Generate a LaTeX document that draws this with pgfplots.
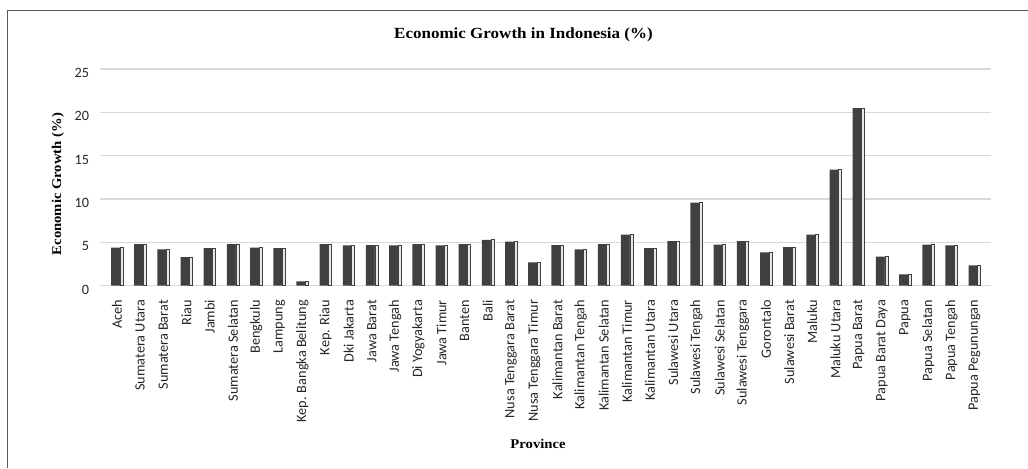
\documentclass[border=0pt]{standalone}
\usepackage{fontspec}
\usepackage{pgfplots}
\pgfplotsset{compat=1.18}
\setmainfont{Liberation Serif}
\newfontfamily\lab{Carlito}
\newfontfamily\ttl[FakeStretch=1.1]{Liberation Serif}
\definecolor{barc}{HTML}{404040}
\definecolor{side}{HTML}{E6E6E6}
\definecolor{gridc}{HTML}{D9D9D9}
\definecolor{framec}{HTML}{595959}
\begin{document}
\begin{tikzpicture}
\path[use as bounding box] (0,0) rectangle (771pt,351pt);
\draw[framec, line width=1.1pt] (5.6pt,0) -- (5.6pt,343.1pt) -- (771pt,343.1pt);
\begin{axis}[
  at={(75pt,136.7pt)}, anchor=south west,
  scale only axis, width=668.25pt, height=162.5pt,
  xmin=-0.733, xmax=37.71, ymin=0, ymax=25,
  ybar,
  axis line style={draw=none},
  major tick length=0pt,
  ymajorgrids, grid style={gridc, line width=1.1pt},
  ytick={0,5,10,15,20,25},
  xtick=data,
  xticklabels={Aceh,Sumatera Utara,Sumatera Barat,Riau,Jambi,Sumatera Selatan,Bengkulu,Lampung,Kep. Bangka Belitung,Kep. Riau,Dki Jakarta,Jawa Barat,Jawa Tengah,Di Yogyakarta,Jawa Timur,Banten,Bali,Nusa Tenggara Barat,Nusa Tenggara Timur,Kalimantan Barat,Kalimantan Tengah,Kalimantan Selatan,Kalimantan Timur,Kalimantan Utara,Sulawesi Utara,Sulawesi Tengah,Sulawesi Selatan,Sulawesi Tenggara,Gorontalo,Sulawesi Barat,Maluku,Maluku Utara,Papua Barat,Papua Barat Daya,Papua,Papua Selatan,Papua Tengah,Papua Pegunungan},
  xticklabel style={rotate=90, anchor=east, inner sep=0pt, text=black!85, font=\lab\fontsize{10.7}{12}\selectfont},
  xticklabel shift=10.5pt,
  /pgf/number format/assume math mode=true,
  yticklabel style={anchor=east, inner sep=0pt, yshift=-3pt, text=black!85, font=\lab\fontsize{10.7}{12}\selectfont},
  yticklabel shift=8pt,
  every axis title shift=0pt,
  title={\ttl\bfseries\fontsize{11.6}{13}\selectfont Economic Growth in Indonesia (\%)},
  title style={at={(axis description cs:0.4753,1.160)}, anchor=center},
  xlabel={\ttl\bfseries\fontsize{10}{12}\selectfont Province},
  xlabel style={at={(axis description cs:0.4916,-0.7305)}, anchor=center},
  ylabel={\ttl\bfseries\fontsize{10}{12}\selectfont Economic Growth (\%)},
  ylabel style={at={(axis description cs:-0.0471,0.469)}, anchor=center, rotate=0},
]
\addplot[fill=barc, draw=none, bar width=6.75pt, bar shift=-1.1pt] coordinates {
(0,4.4) (1,4.8) (2,4.2) (3,3.3) (4,4.35) (5,4.8) (6,4.4) (7,4.35) (8,0.5) (9,4.8)
(10,4.65) (11,4.7) (12,4.65) (13,4.8) (14,4.65) (15,4.8) (16,5.3) (17,5.1) (18,2.7) (19,4.7)
(20,4.2) (21,4.8) (22,5.9) (23,4.35) (24,5.15) (25,9.6) (26,4.75) (27,5.15) (28,3.85) (29,4.45)
(30,5.9) (31,13.4) (32,20.5) (33,3.35) (34,1.3) (35,4.75) (36,4.65) (37,2.35)};
\addplot[fill=side, draw=barc, line width=0.5pt, bar width=2.25pt, bar shift=3.4pt] coordinates {
(0,4.4) (1,4.8) (2,4.2) (3,3.3) (4,4.35) (5,4.8) (6,4.4) (7,4.35) (8,0.5) (9,4.8)
(10,4.65) (11,4.7) (12,4.65) (13,4.8) (14,4.65) (15,4.8) (16,5.3) (17,5.1) (18,2.7) (19,4.7)
(20,4.2) (21,4.8) (22,5.9) (23,4.35) (24,5.15) (25,9.6) (26,4.75) (27,5.15) (28,3.85) (29,4.45)
(30,5.9) (31,13.4) (32,20.5) (33,3.35) (34,1.3) (35,4.75) (36,4.65) (37,2.35)};
\end{axis}
\end{tikzpicture}
\end{document}
